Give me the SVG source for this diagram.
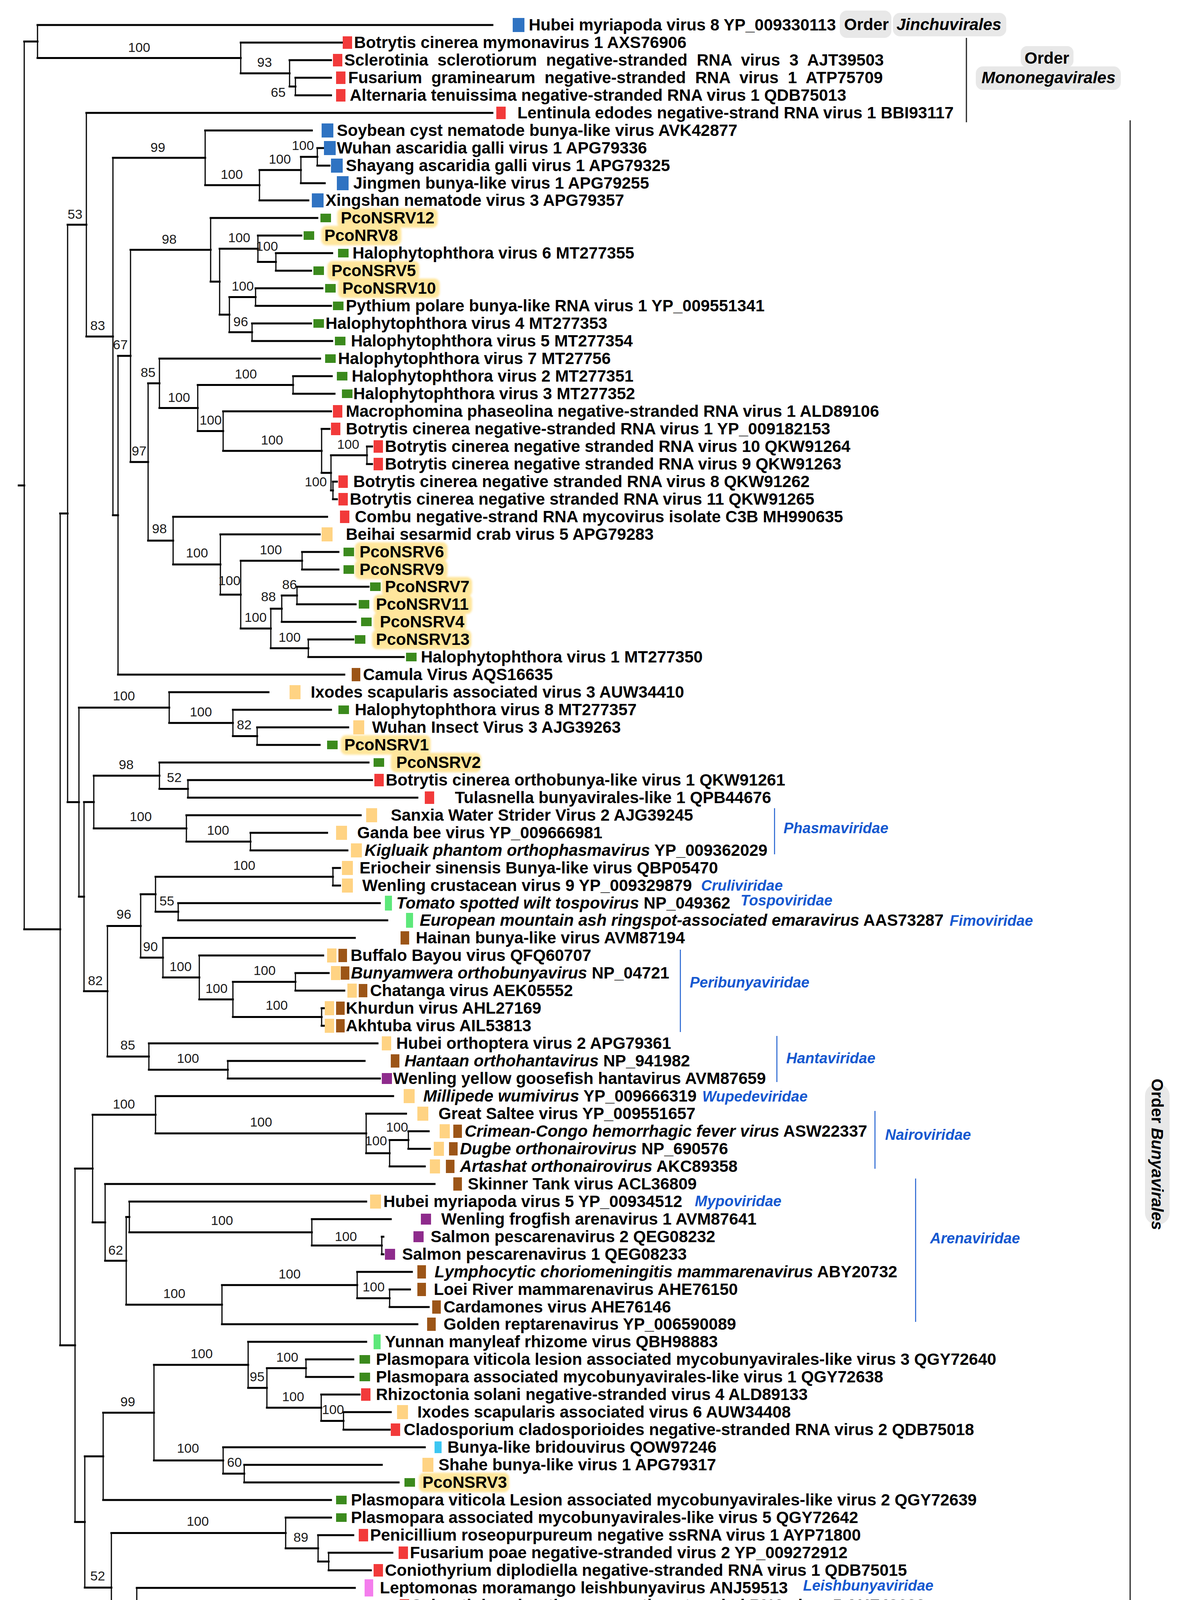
<svg xmlns="http://www.w3.org/2000/svg" width="3017" height="4757" viewBox="0 0 3017 4757">
<style>
.h{fill:none;stroke:#000;stroke-width:5;stroke-linecap:square}
.v{fill:none;stroke:#000;stroke-width:3}
.t{font-family:"Liberation Sans",Arial,sans-serif;font-weight:bold;font-size:42px;fill:#000}
.i{font-style:italic}
.bs{font-family:"Liberation Sans",Arial,sans-serif;font-size:34px;fill:#1a1a1a;text-anchor:middle}
.fam{font-family:"Liberation Sans",Arial,sans-serif;font-weight:bold;font-style:italic;font-size:38px;fill:#1558d0}
.br{stroke:#1f5fd0;stroke-width:2.5;fill:none}
.ordl{stroke:#222;stroke-width:3;fill:none}
.ord{fill:#e8e8e8}
.hl{fill:#ffe69c}
.sb{fill:#2f73c2}.sr{fill:#f23a3a}.sg{fill:#3b8a1d}.sy{fill:#ffd383}.sn{fill:#9c5517}.sp{fill:#8e2b8c}.sl{fill:#5de87a}.sc{fill:#3cc6f2}.sk{fill:#f47ded}
</style>
<defs><filter id="soft" x="-10%" y="-30%" width="120%" height="160%"><feGaussianBlur stdDeviation="2.5"/></filter></defs>
<rect width="3017" height="4757" fill="#fff"/>
<g id="connectors">
<path class="h" d="M48 1242.7H62M62 106.2H96M62 2379.1H154M96 64H1260M96 148.4H616M616 109H875M616 187.8H741M741 154H847M741 221.5H756M756 199H847M756 244H847M154 1314.4H173M154 3443.9H192M173 575.3H221M173 2053.4H202M221 289H1260M221 861.6H289M289 404.1H525M289 1319.1H302M525 334H798M525 474.1H664M664 435.3H770M664 513H789M770 401.5H812M770 469H831M812 379H827M812 424H843M302 911.1H334M302 1727H881M334 639.6H539M334 1182.7H379M539 558H812M539 721.1H562M562 636.8H660M562 805.5H587M660 603H771M660 670.5H706M706 648H850M706 693H796M587 760.5H654M587 850.5H645M654 738H825M654 783H847M645 828H796M645 873H850M379 981.3H408M379 1384.1H443M408 918H819M408 1044.6H506M506 985.5H750M506 1103.6H571M750 963H849M750 1008H856M571 1053H847M571 1154.3H823M823 1098H843M823 1210.5H847M847 1165.5H939M847 1255.5H852M939 1143H952M939 1188H952M852 1233H862M852 1278H862M443 1323H837M443 1445.1H564M564 1368H818M564 1522.2H616M616 1435.5H773M616 1608.9H693M773 1413H866M773 1458H866M693 1558.3H721M693 1659.5H789M721 1524.5H760M721 1592H910M760 1502H943M760 1547H910M789 1637H904M789 1682H1033"/>
<path class="h" d="M202 1811.4H433M202 2295.4H215M433 1772H687M433 1850.8H596M596 1817H847M596 1884.5H658M658 1862H891M658 1907H818M215 2053.3H240M215 2537.6H275M240 1985.8H408M240 2120.8H477M408 1952H943M408 2019.5H481M481 1997H952M481 2042H1068M477 2087H923M477 2154.5H641M641 2132H837M641 2177H889M275 2370.4H360M275 2704.8H381M360 2289.3H398M360 2451.6H417M398 2244.5H852M398 2334H456M852 2222H870M852 2267H870M456 2312H972M456 2356H991M417 2401H908M417 2502.3H510M510 2446H827M510 2558.5H596M596 2513.5H756M596 2603.5H823M756 2491H841M756 2536H881M823 2581H831M823 2626H831M381 2671H966M381 2738.5H583M583 2716H933M583 2761H972"/>
<path class="h" d="M192 2991.5H237M192 3896.2H217M237 2853.8H398M237 3129.3H269M398 2806H1006M398 2901.6H937M937 2851H1039M937 2952.3H997M997 2918.5H1045M997 2986H1087M1045 2896H1097M1045 2941H1100M269 3031H1112M269 3227.6H323M323 3115.4H331M323 3339.9H568M331 3076H937M331 3154.8H798M798 3121H1000M798 3188.5H977M977 3166H981M977 3211H981M568 3289.8H914M568 3390H1068M914 3256H1054M914 3323.5H997M997 3301H1049M997 3346H1097"/>
<path class="h" d="M217 3728.2H264M217 4064.3H285M264 3616.4H394M264 3840H847M394 3494.1H635M394 3738.8H571M635 3435H937M635 3553.1H683M683 3502.5H783M683 3603.8H822M783 3480H904M783 3525H904M822 3570H920M822 3637.5H879M879 3615H1000M879 3660H997M571 3705H1087M571 3772.5H625M625 3750H977M625 3795H1020M285 3924.4H731M285 4204.1H350M731 3885H847M731 3963.8H814M814 3930H904M814 3997.5H841M841 3975H1004M841 4020H949M350 4065H908M350 4343.2H427M427 4195H477M427 4491.5H596M477 4110H943M477 4279.9H525M525 4177.5H972M525 4382.3H568M972 4155H1000M972 4200H981M568 4340.6H596M568 4424H939M596 4301.3H650M596 4380H966M650 4267.5H847M650 4335H879M847 4245H920M847 4290H920M596 4469H933M596 4514H881"/>
<path class="v" d="M62 106.2V2379.1M96 64V148.4M616 109V187.8M741 154V221.5M756 199V244M154 1314.4V3443.9M173 575.3V2053.4M221 289V861.6M289 404.1V1319.1M525 334V474.1M664 435.3V513M770 401.5V469M812 379V424M302 911.1V1727M334 639.6V1182.7M539 558V721.1M562 636.8V805.5M660 603V670.5M706 648V693M587 760.5V850.5M654 738V783M645 828V873M379 981.3V1384.1M408 918V1044.6M506 985.5V1103.6M750 963V1008M571 1053V1154.3M823 1098V1210.5M847 1165.5V1255.5M939 1143V1188M852 1233V1278M443 1323V1445.1M564 1368V1522.2M616 1435.5V1608.9M773 1413V1458M693 1558.3V1659.5M721 1524.5V1592M760 1502V1547M789 1637V1682M202 1811.4V2295.4M433 1772V1850.8M596 1817V1884.5M658 1862V1907M215 2053.3V2537.6M240 1985.8V2120.8M408 1952V2019.5M481 1997V2042M477 2087V2154.5M641 2132V2177M275 2370.4V2704.8M360 2289.3V2451.6M398 2244.5V2334M852 2222V2267M456 2312V2356M417 2401V2502.3M510 2446V2558.5M596 2513.5V2603.5M756 2491V2536M823 2581V2626M381 2671V2738.5M583 2716V2761M192 2991.5V3896.2M237 2853.8V3129.3M398 2806V2901.6M937 2851V2952.3M997 2918.5V2986M1045 2896V2941M269 3031V3227.6M323 3115.4V3339.9M331 3076V3154.8M798 3121V3188.5M977 3166V3211M568 3289.8V3390M914 3256V3323.5M997 3301V3346M217 3728.2V4064.3M264 3616.4V3840M394 3494.1V3738.8M635 3435V3553.1M683 3502.5V3603.8M783 3480V3525M822 3570V3637.5M879 3615V3660M571 3705V3772.5M625 3750V3795M285 3924.4V4204.1M731 3885V3963.8M814 3930V3997.5M841 3975V4020M350 4065V4343.2M427 4195V4491.5M477 4110V4279.9M525 4177.5V4382.3M972 4155V4200M568 4340.6V4424M596 4301.3V4380M650 4267.5V4335M847 4245V4290M596 4469V4514"/>
</g>
<g id="brackets">
<path class="ordl" d="M2473 97V313M2892 308V4545"/>
<path class="br" d="M1982 2069V2187M1741 2431V2642M1988 2652V2770M2239 2844V2992M2343 3017V3384M2320 4150V4527"/>
</g>
<g id="order-labels">
<rect class="ord" x="2149" y="27" width="132" height="70" rx="18"/>
<rect class="ord" x="2285" y="33" width="290" height="60" rx="18"/>
<text class="t" x="2160" y="77">Order</text>
<text class="t i" x="2294" y="77">Jinchuvirales</text>
<rect class="ord" x="2612" y="118" width="135" height="54" rx="16"/>
<rect class="ord" x="2497" y="170" width="371" height="60" rx="18"/>
<text class="t" x="2679" y="163" text-anchor="middle">Order</text>
<text class="t i" x="2683" y="213" text-anchor="middle">Mononegavirales</text>
<rect class="ord" x="2930" y="2775" width="63" height="360" rx="30"/>
<text class="t" font-size="40" transform="translate(2961 2955) rotate(90)" x="0" y="14" text-anchor="middle">Order <tspan class="i">Bunyavirales</tspan></text>
</g>
<g id="family-labels">
<text class="fam" x="2005" y="2133">Phasmaviridae</text>
<text class="fam" x="1794" y="2280">Cruliviridae</text>
<text class="fam" x="1895" y="2318">Tospoviridae</text>
<text class="fam" x="2430" y="2370">Fimoviridae</text>
<text class="fam" x="1765" y="2528">Peribunyaviridae</text>
<text class="fam" x="2012" y="2722">Hantaviridae</text>
<text class="fam" x="1797" y="2820">Wupedeviridae</text>
<text class="fam" x="2265" y="2918">Nairoviridae</text>
<text class="fam" x="1778" y="3088">Mypoviridae</text>
<text class="fam" x="2380" y="3183">Arenaviridae</text>
<text class="fam" x="2055" y="4072">Leishbunyaviridae</text>
<text class="fam" x="2342" y="4308">Phenuiviridae</text>
</g>
<g id="highlights" filter="url(#soft)">
<rect class="hl" x="863" y="533" width="257" height="50" rx="14"/>
<rect class="hl" x="822" y="578" width="205" height="50" rx="14"/>
<rect class="hl" x="838" y="668" width="235" height="50" rx="14"/>
<rect class="hl" x="865" y="713" width="260" height="50" rx="14"/>
<rect class="hl" x="908" y="1388" width="237" height="50" rx="14"/>
<rect class="hl" x="908" y="1433" width="237" height="50" rx="14"/>
<rect class="hl" x="977" y="1477" width="231" height="50" rx="14"/>
<rect class="hl" x="956" y="1522" width="252" height="50" rx="14"/>
<rect class="hl" x="956" y="1567" width="237" height="50" rx="14"/>
<rect class="hl" x="952" y="1612" width="254" height="50" rx="14"/>
<rect class="hl" x="872" y="1882" width="230" height="50" rx="14"/>
<rect class="hl" x="1000" y="1927" width="231" height="50" rx="14"/>
<rect class="hl" x="1072" y="3770" width="231" height="50" rx="14"/>
</g>
<g id="leaves">
<g id="n1"><rect class="sb" x="1312" y="46" width="30" height="36"/><text class="t" x="1353" y="78">Hubei myriapoda virus 8 YP_009330113</text></g>
<g id="n2"><rect class="sr" x="877" y="93" width="24" height="32"/><text class="t" x="906" y="123">Botrytis cinerea mymonavirus 1 AXS76906</text></g>
<g id="n3"><rect class="sr" x="852" y="138" width="24" height="32"/><text class="t" x="881" y="168" word-spacing="12">Sclerotinia sclerotiorum negative-stranded RNA virus 3 AJT39503</text></g>
<g id="n4"><rect class="sr" x="860" y="183" width="24" height="32"/><text class="t" x="891" y="213" word-spacing="12">Fusarium graminearum negative-stranded RNA virus 1 ATP75709</text></g>
<g id="n5"><rect class="sr" x="860" y="228" width="24" height="32"/><text class="t" x="895" y="258">Alternaria tenuissima negative-stranded RNA virus 1 QDB75013</text></g>
<g id="n6"><rect class="sr" x="1270" y="273" width="24" height="32"/><text class="t" x="1324" y="303">Lentinula edodes negative-strand RNA virus 1 BBI93117</text></g>
<g id="n7"><rect class="sb" x="823" y="316" width="30" height="36"/><text class="t" x="862" y="348">Soybean cyst nematode bunya-like virus AVK42877</text></g>
<g id="n8"><rect class="sb" x="829" y="361" width="30" height="36"/><text class="t" x="862" y="393">Wuhan ascaridia galli virus 1 APG79336</text></g>
<g id="n9"><rect class="sb" x="847" y="406" width="30" height="36"/><text class="t" x="885" y="438">Shayang ascaridia galli virus 1 APG79325</text></g>
<g id="n10"><rect class="sb" x="862" y="451" width="30" height="36"/><text class="t" x="904" y="483">Jingmen bunya-like virus 1 APG79255</text></g>
<g id="n11"><rect class="sb" x="798" y="495" width="30" height="36"/><text class="t" x="833" y="527">Xingshan nematode virus 3 APG79357</text></g>
<g id="n12"><rect class="sg" x="820" y="547" width="27" height="22"/><text class="t" x="872" y="572">PcoNSRV12</text></g>
<g id="n13"><rect class="sg" x="777" y="592" width="27" height="22"/><text class="t" x="830" y="617">PcoNRV8</text></g>
<g id="n14"><rect class="sg" x="865" y="637" width="27" height="22"/><text class="t" x="902" y="662">Halophytophthora virus 6 MT277355</text></g>
<g id="n15"><rect class="sg" x="802" y="682" width="27" height="22"/><text class="t" x="848" y="707">PcoNSRV5</text></g>
<g id="n16"><rect class="sg" x="832" y="727" width="27" height="22"/><text class="t" x="876" y="752">PcoNSRV10</text></g>
<g id="n17"><rect class="sg" x="852" y="772" width="27" height="22"/><text class="t" x="885" y="797">Pythium polare bunya-like RNA virus 1 YP_009551341</text></g>
<g id="n18"><rect class="sg" x="802" y="817" width="27" height="22"/><text class="t" x="833" y="842">Halophytophthora virus 4 MT277353</text></g>
<g id="n19"><rect class="sg" x="857" y="862" width="27" height="22"/><text class="t" x="898" y="887">Halophytophthora virus 5 MT277354</text></g>
<g id="n20"><rect class="sg" x="832" y="907" width="27" height="22"/><text class="t" x="865" y="932">Halophytophthora virus 7 MT27756</text></g>
<g id="n21"><rect class="sg" x="862" y="952" width="27" height="22"/><text class="t" x="900" y="977">Halophytophthora virus 2 MT277351</text></g>
<g id="n22"><rect class="sg" x="875" y="997" width="27" height="22"/><text class="t" x="904" y="1022">Halophytophthora virus 3 MT277352</text></g>
<g id="n23"><rect class="sr" x="852" y="1037" width="24" height="32"/><text class="t" x="885" y="1067">Macrophomina phaseolina negative-stranded RNA virus 1 ALD89106</text></g>
<g id="n24"><rect class="sr" x="847" y="1082" width="24" height="32"/><text class="t" x="885" y="1112">Botrytis cinerea negative-stranded RNA virus 1 YP_009182153</text></g>
<g id="n25"><rect class="sr" x="956" y="1127" width="24" height="32"/><text class="t" x="985" y="1157">Botrytis cinerea negative stranded RNA virus 10 QKW91264</text></g>
<g id="n26"><rect class="sr" x="956" y="1172" width="24" height="32"/><text class="t" x="985" y="1202">Botrytis cinerea negative stranded RNA virus 9 QKW91263</text></g>
<g id="n27"><rect class="sr" x="866" y="1217" width="24" height="32"/><text class="t" x="904" y="1247">Botrytis cinerea negative stranded RNA virus 8 QKW91262</text></g>
<g id="n28"><rect class="sr" x="866" y="1262" width="24" height="32"/><text class="t" x="895" y="1292">Botrytis cinerea negative stranded RNA virus 11 QKW91265</text></g>
<g id="n29"><rect class="sr" x="870" y="1307" width="24" height="32"/><text class="t" x="908" y="1337">Combu negative-strand RNA mycovirus isolate C3B MH990635</text></g>
<g id="n30"><rect class="sy" x="823" y="1350" width="28" height="36"/><text class="t" x="885" y="1382">Beihai sesarmid crab virus 5 APG79283</text></g>
<g id="n31"><rect class="sg" x="879" y="1402" width="27" height="22"/><text class="t" x="920" y="1427">PcoNSRV6</text></g>
<g id="n32"><rect class="sg" x="879" y="1447" width="27" height="22"/><text class="t" x="920" y="1472">PcoNSRV9</text></g>
<g id="n33"><rect class="sg" x="947" y="1491" width="27" height="22"/><text class="t" x="985" y="1516">PcoNSRV7</text></g>
<g id="n34"><rect class="sg" x="918" y="1536" width="27" height="22"/><text class="t" x="962" y="1561">PcoNSRV11</text></g>
<g id="n35"><rect class="sg" x="924" y="1581" width="27" height="22"/><text class="t" x="972" y="1606">PcoNSRV4</text></g>
<g id="n36"><rect class="sg" x="908" y="1626" width="27" height="22"/><text class="t" x="962" y="1651">PcoNSRV13</text></g>
<g id="n37"><rect class="sg" x="1039" y="1671" width="27" height="22"/><text class="t" x="1077" y="1696">Halophytophthora virus 1 MT277350</text></g>
<g id="n38"><rect class="sn" x="900" y="1710" width="22" height="34"/><text class="t" x="929" y="1741">Camula Virus AQS16635</text></g>
<g id="n39"><rect class="sy" x="741" y="1754" width="28" height="36"/><text class="t" x="795" y="1786">Ixodes scapularis associated virus 3 AUW34410</text></g>
<g id="n40"><rect class="sg" x="866" y="1806" width="27" height="22"/><text class="t" x="908" y="1831">Halophytophthora virus 8 MT277357</text></g>
<g id="n41"><rect class="sy" x="904" y="1844" width="28" height="36"/><text class="t" x="952" y="1876">Wuhan Insect Virus 3 AJG39263</text></g>
<g id="n42"><rect class="sg" x="837" y="1896" width="27" height="22"/><text class="t" x="881" y="1921">PcoNSRV1</text></g>
<g id="n43"><rect class="sg" x="956" y="1941" width="27" height="22"/><text class="t" x="1014" y="1966">PcoNSRV2</text></g>
<g id="n44"><rect class="sr" x="958" y="1981" width="24" height="32"/><text class="t" x="987" y="2011">Botrytis cinerea orthobunya-like virus 1 QKW91261</text></g>
<g id="n45"><rect class="sr" x="1087" y="2026" width="24" height="32"/><text class="t" x="1164" y="2056">Tulasnella bunyavirales-like 1 QPB44676</text></g>
<g id="n46"><rect class="sy" x="937" y="2069" width="28" height="36"/><text class="t" x="1000" y="2101">Sanxia Water Strider Virus 2 AJG39245</text></g>
<g id="n47"><rect class="sy" x="860" y="2114" width="28" height="36"/><text class="t" x="914" y="2146">Ganda bee virus YP_009666981</text></g>
<g id="n48"><rect class="sy" x="898" y="2159" width="28" height="36"/><text class="t" x="933" y="2191"><tspan class="i">Kigluaik phantom orthophasmavirus</tspan> YP_009362029</text></g>
<g id="n49"><rect class="sy" x="875" y="2204" width="28" height="36"/><text class="t" x="920" y="2236">Eriocheir sinensis Bunya-like virus QBP05470</text></g>
<g id="n50"><rect class="sy" x="875" y="2249" width="28" height="36"/><text class="t" x="927" y="2281">Wenling crustacean virus 9 YP_009329879</text></g>
<g id="n51"><rect class="sl" x="985" y="2293" width="18" height="38"/><text class="t" x="1014" y="2326"><tspan class="i">Tomato spotted wilt tospovirus</tspan> NP_049362</text></g>
<g id="n52"><rect class="sl" x="1039" y="2337" width="18" height="38"/><text class="t" x="1074" y="2370"><tspan class="i">European mountain ash ringspot-associated emaravirus</tspan> AAS73287</text></g>
<g id="n53"><rect class="sn" x="1025" y="2384" width="22" height="34"/><text class="t" x="1064" y="2415">Hainan bunya-like virus AVM87194</text></g>
<g id="n54"><rect class="sy" x="837" y="2428" width="24" height="36"/><rect class="sn" x="866" y="2429" width="22" height="34"/><text class="t" x="897" y="2460">Buffalo Bayou virus QFQ60707</text></g>
<g id="n55"><rect class="sy" x="847" y="2473" width="24" height="36"/><rect class="sn" x="872" y="2474" width="22" height="34"/><text class="t" x="898" y="2505"><tspan class="i">Bunyamwera orthobunyavirus</tspan> NP_04721</text></g>
<g id="n56"><rect class="sy" x="889" y="2518" width="24" height="36"/><rect class="sn" x="918" y="2519" width="22" height="34"/><text class="t" x="947" y="2550">Chatanga virus AEK05552</text></g>
<g id="n57"><rect class="sy" x="831" y="2563" width="24" height="36"/><rect class="sn" x="860" y="2564" width="22" height="34"/><text class="t" x="885" y="2595">Khurdun virus AHL27169</text></g>
<g id="n58"><rect class="sy" x="831" y="2608" width="24" height="36"/><rect class="sn" x="860" y="2609" width="22" height="34"/><text class="t" x="885" y="2640">Akhtuba virus AIL53813</text></g>
<g id="n59"><rect class="sy" x="977" y="2653" width="24" height="36"/><text class="t" x="1014" y="2685">Hubei orthoptera virus 2 APG79361</text></g>
<g id="n60"><rect class="sn" x="1000" y="2699" width="22" height="34"/><text class="t" x="1035" y="2730"><tspan class="i">Hantaan orthohantavirus</tspan> NP_941982</text></g>
<g id="n61"><rect class="sp" x="977" y="2747" width="26" height="28"/><text class="t" x="1006" y="2775">Wenling yellow goosefish hantavirus AVM87659</text></g>
<g id="n62"><rect class="sy" x="1033" y="2788" width="28" height="36"/><text class="t" x="1083" y="2820"><tspan class="i">Millipede wumivirus</tspan> YP_009666319</text></g>
<g id="n63"><rect class="sy" x="1068" y="2833" width="28" height="36"/><text class="t" x="1122" y="2865">Great Saltee virus YP_009551657</text></g>
<g id="n64"><rect class="sy" x="1125" y="2878" width="26" height="36"/><rect class="sn" x="1160" y="2879" width="22" height="34"/><text class="t" x="1189" y="2910"><tspan class="i">Crimean-Congo hemorrhagic fever virus</tspan> ASW22337</text></g>
<g id="n65"><rect class="sy" x="1110" y="2923" width="26" height="36"/><rect class="sn" x="1149" y="2924" width="22" height="34"/><text class="t" x="1177" y="2955"><tspan class="i">Dugbe orthonairovirus</tspan> NP_690576</text></g>
<g id="n66"><rect class="sy" x="1100" y="2968" width="26" height="36"/><rect class="sn" x="1141" y="2969" width="22" height="34"/><text class="t" x="1177" y="3000"><tspan class="i">Artashat orthonairovirus</tspan> AKC89358</text></g>
<g id="n67"><rect class="sn" x="1160" y="3014" width="22" height="34"/><text class="t" x="1197" y="3045">Skinner Tank virus ACL36809</text></g>
<g id="n68"><rect class="sy" x="947" y="3058" width="28" height="36"/><text class="t" x="981" y="3090">Hubei myriapoda virus 5 YP_00934512</text></g>
<g id="n69"><rect class="sp" x="1077" y="3107" width="26" height="28"/><text class="t" x="1129" y="3135">Wenling frogfish arenavirus 1 AVM87641</text></g>
<g id="n70"><rect class="sp" x="1058" y="3152" width="26" height="28"/><text class="t" x="1102" y="3180">Salmon pescarenavirus 2 QEG08232</text></g>
<g id="n71"><rect class="sp" x="985" y="3197" width="26" height="28"/><text class="t" x="1029" y="3225">Salmon pescarenavirus 1 QEG08233</text></g>
<g id="n72"><rect class="sn" x="1068" y="3239" width="22" height="34"/><text class="t" x="1112" y="3270"><tspan class="i">Lymphocytic choriomeningitis mammarenavirus</tspan> ABY20732</text></g>
<g id="n73"><rect class="sn" x="1068" y="3284" width="22" height="34"/><text class="t" x="1110" y="3315">Loei River mammarenavirus AHE76150</text></g>
<g id="n74"><rect class="sn" x="1106" y="3329" width="22" height="34"/><text class="t" x="1135" y="3360">Cardamones virus AHE76146</text></g>
<g id="n75"><rect class="sn" x="1093" y="3373" width="22" height="34"/><text class="t" x="1135" y="3404">Golden reptarenavirus YP_006590089</text></g>
<g id="n76"><rect class="sl" x="956" y="3416" width="18" height="38"/><text class="t" x="985" y="3449">Yunnan manyleaf rhizome virus QBH98883</text></g>
<g id="n77"><rect class="sg" x="920" y="3469" width="27" height="22"/><text class="t" x="962" y="3494">Plasmopara viticola lesion associated mycobunyavirales-like virus 3 QGY72640</text></g>
<g id="n78"><rect class="sg" x="920" y="3514" width="27" height="22"/><text class="t" x="962" y="3539">Plasmopara associated mycobunyavirales-like virus 1 QGY72638</text></g>
<g id="n79"><rect class="sr" x="924" y="3554" width="24" height="32"/><text class="t" x="962" y="3584">Rhizoctonia solani negative-stranded virus 4 ALD89133</text></g>
<g id="n80"><rect class="sy" x="1016" y="3597" width="28" height="36"/><text class="t" x="1068" y="3629">Ixodes scapularis associated virus 6 AUW34408</text></g>
<g id="n81"><rect class="sr" x="1000" y="3644" width="24" height="32"/><text class="t" x="1033" y="3674">Cladosporium cladosporioides negative-stranded RNA virus 2 QDB75018</text></g>
<g id="n82"><rect class="sc" x="1112" y="3690" width="18" height="30"/><text class="t" x="1145" y="3719">Bunya-like bridouvirus QOW97246</text></g>
<g id="n83"><rect class="sy" x="1081" y="3732" width="28" height="36"/><text class="t" x="1122" y="3764">Shahe bunya-like virus 1 APG79317</text></g>
<g id="n84"><rect class="sg" x="1035" y="3784" width="27" height="22"/><text class="t" x="1081" y="3809">PcoNSRV3</text></g>
<g id="n85"><rect class="sg" x="860" y="3829" width="27" height="22"/><text class="t" x="898" y="3854">Plasmopara viticola Lesion associated mycobunyavirales-like virus 2 QGY72639</text></g>
<g id="n86"><rect class="sg" x="860" y="3874" width="27" height="22"/><text class="t" x="898" y="3899">Plasmopara associated mycobunyavirales-like virus 5 QGY72642</text></g>
<g id="n87"><rect class="sr" x="918" y="3914" width="24" height="32"/><text class="t" x="947" y="3944">Penicillium roseopurpureum negative ssRNA virus 1 AYP71800</text></g>
<g id="n88"><rect class="sr" x="1020" y="3959" width="24" height="32"/><text class="t" x="1049" y="3989">Fusarium poae negative-stranded virus 2 YP_009272912</text></g>
<g id="n89"><rect class="sr" x="956" y="4004" width="24" height="32"/><text class="t" x="985" y="4034">Coniothyrium diplodiella negative-stranded RNA virus 1 QDB75015</text></g>
<g id="n90"><rect class="sk" x="933" y="4043" width="22" height="44"/><text class="t" x="972" y="4079">Leptomonas moramango leishbunyavirus ANJ59513</text></g>
<g id="n91"><rect class="sr" x="1023" y="4094" width="24" height="32"/><text class="t" x="1052" y="4124">Sclerotinia sclerotiorum negative-stranded RNA virus 5 AHF48633</text></g>
<g id="n92"><rect class="sb" x="1004" y="4137" width="30" height="36"/><text class="t" x="1049" y="4169">Soybean cyst nematode associated rice stripe virus AEF56735</text></g>
<g id="n93"><rect class="sl" x="985" y="4181" width="18" height="38"/><text class="t" x="1014" y="4214"><tspan class="i">Rice stripe tenuivirus</tspan> AEF56735</text></g>
<g id="n94"><rect class="sn" x="927" y="4228" width="22" height="34"/><text class="t" x="956" y="4259"><tspan class="i">Bujaru virus</tspan> QLA46868</text></g>
<g id="n95"><rect class="sn" x="933" y="4273" width="22" height="34"/><rect class="sy" x="962" y="4272" width="26" height="36"/><text class="t" x="1025" y="4304">Rift Valley fever virus YP_003848704</text></g>
<g id="n96"><rect class="sy" x="895" y="4317" width="28" height="36"/><text class="t" x="966" y="4349"><tspan class="i">Shrimp wenrivirus</tspan> YP_009304989</text></g>
<g id="n97"><rect class="sy" x="985" y="4362" width="28" height="36"/><text class="t" x="1033" y="4394">Blattodean phenui-related virus OKIAV294 QMP82269</text></g>
<g id="n98"><rect class="sl" x="977" y="4405" width="18" height="38"/><text class="t" x="1004" y="4438">European wheat striate mosaic virus QFU19931</text></g>
<g id="n99"><rect class="sr" x="943" y="4453" width="24" height="32"/><text class="t" x="972" y="4483"><tspan class="i">Lentinula lentinuvirus</tspan>_BBI93118</text></g>
<g id="n100"><rect class="sr" x="891" y="4498" width="24" height="32"/><text class="t" x="920" y="4528"><tspan class="i">Entoleuca entovirus</tspan>_AVD68666</text></g>
</g>
<g id="support">
<text class="bs" x="356" y="133">100</text>
<text class="bs" x="677" y="171">93</text>
<text class="bs" x="712" y="248">65</text>
<text class="bs" x="404" y="389">99</text>
<text class="bs" x="593" y="458">100</text>
<text class="bs" x="716" y="419">100</text>
<text class="bs" x="775" y="384">100</text>
<text class="bs" x="192" y="560">53</text>
<text class="bs" x="433" y="624">98</text>
<text class="bs" x="612" y="620">100</text>
<text class="bs" x="683" y="642">100</text>
<text class="bs" x="621" y="744">100</text>
<text class="bs" x="616" y="835">96</text>
<text class="bs" x="250" y="845">83</text>
<text class="bs" x="308" y="894">67</text>
<text class="bs" x="379" y="965">85</text>
<text class="bs" x="629" y="969">100</text>
<text class="bs" x="458" y="1029">100</text>
<text class="bs" x="539" y="1087">100</text>
<text class="bs" x="696" y="1138">100</text>
<text class="bs" x="891" y="1149">100</text>
<text class="bs" x="356" y="1166">97</text>
<text class="bs" x="808" y="1245">100</text>
<text class="bs" x="408" y="1365">98</text>
<text class="bs" x="504" y="1427">100</text>
<text class="bs" x="693" y="1419">100</text>
<text class="bs" x="587" y="1498">100</text>
<text class="bs" x="741" y="1508">86</text>
<text class="bs" x="687" y="1539">88</text>
<text class="bs" x="654" y="1592">100</text>
<text class="bs" x="741" y="1643">100</text>
<text class="bs" x="317" y="1793">100</text>
<text class="bs" x="514" y="1834">100</text>
<text class="bs" x="625" y="1867">82</text>
<text class="bs" x="323" y="1969">98</text>
<text class="bs" x="446" y="2002">52</text>
<text class="bs" x="360" y="2102">100</text>
<text class="bs" x="558" y="2137">100</text>
<text class="bs" x="625" y="2227">100</text>
<text class="bs" x="427" y="2318">55</text>
<text class="bs" x="317" y="2352">96</text>
<text class="bs" x="385" y="2435">90</text>
<text class="bs" x="462" y="2486">100</text>
<text class="bs" x="677" y="2496">100</text>
<text class="bs" x="244" y="2522">82</text>
<text class="bs" x="554" y="2542">100</text>
<text class="bs" x="708" y="2585">100</text>
<text class="bs" x="327" y="2687">85</text>
<text class="bs" x="481" y="2721">100</text>
<text class="bs" x="317" y="2838">100</text>
<text class="bs" x="668" y="2884">100</text>
<text class="bs" x="1016" y="2897">100</text>
<text class="bs" x="962" y="2932">100</text>
<text class="bs" x="568" y="3136">100</text>
<text class="bs" x="885" y="3177">100</text>
<text class="bs" x="296" y="3212">62</text>
<text class="bs" x="741" y="3273">100</text>
<text class="bs" x="446" y="3323">100</text>
<text class="bs" x="956" y="3306">100</text>
<text class="bs" x="516" y="3477">100</text>
<text class="bs" x="735" y="3486">100</text>
<text class="bs" x="658" y="3536">95</text>
<text class="bs" x="750" y="3587">100</text>
<text class="bs" x="327" y="3600">99</text>
<text class="bs" x="852" y="3620">100</text>
<text class="bs" x="481" y="3719">100</text>
<text class="bs" x="600" y="3755">60</text>
<text class="bs" x="506" y="3906">100</text>
<text class="bs" x="770" y="3947">89</text>
<text class="bs" x="250" y="4046">52</text>
<text class="bs" x="750" y="4159">100</text>
<text class="bs" x="456" y="4176">95</text>
<text class="bs" x="317" y="4188">96</text>
<text class="bs" x="500" y="4262">89</text>
<text class="bs" x="746" y="4250">100</text>
<text class="bs" x="621" y="4285">88</text>
<text class="bs" x="389" y="4328">100</text>
<text class="bs" x="548" y="4360">81</text>
<text class="bs" x="512" y="4473">100</text>
</g>
<g id="scale">
<path class="h" d="M593 4631H718"/>
<text class="bs" x="655" y="4688" letter-spacing="3" fill="#333">0.7</text>
</g>
</svg>
